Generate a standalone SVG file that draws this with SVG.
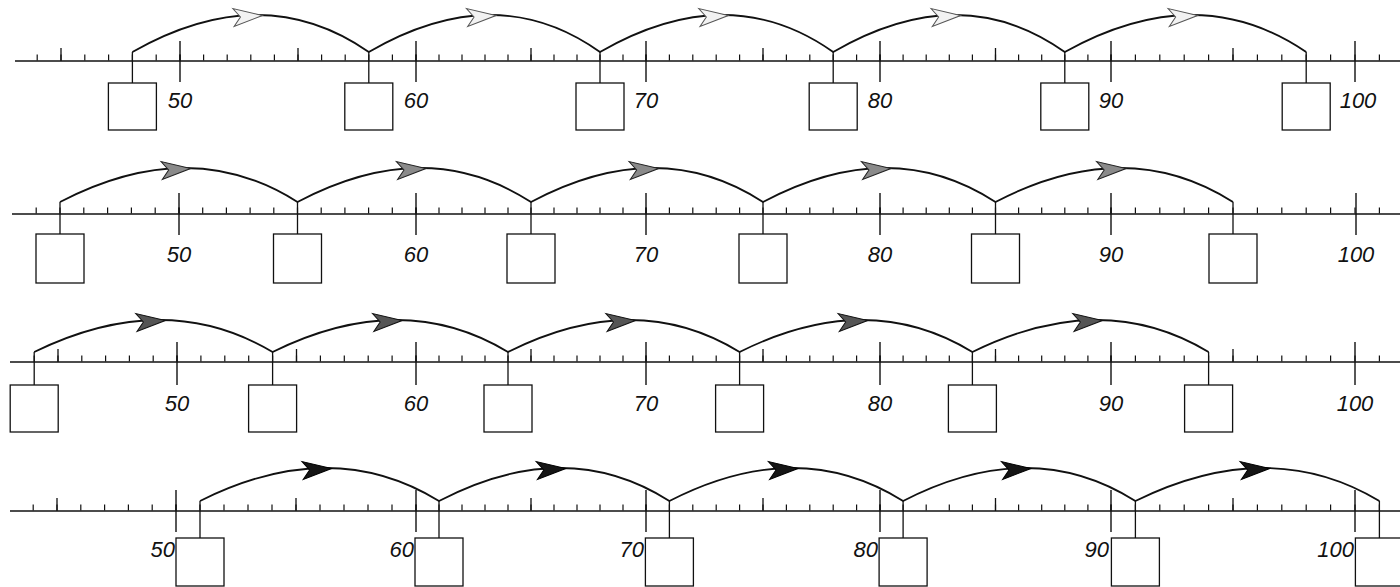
<svg xmlns="http://www.w3.org/2000/svg" xmlns:xlink="http://www.w3.org/1999/xlink" width="1400" height="587" viewBox="0 0 1400 587">
<style>
.axis{stroke:#111;stroke-width:1.6;fill:none}
.mt{stroke:#111;stroke-width:6;fill:none}
.ft{stroke:#111;stroke-width:1.3;fill:none}
.maj{stroke:#111;stroke-width:1.4;fill:none}
.box{fill:#fff;stroke:#111;stroke-width:1.3}
.arc{stroke:#111;stroke-width:1.8;fill:none}
.jv{stroke:#111;stroke-width:1.3;fill:none}
.lbl{font-family:"Liberation Sans",Arial,sans-serif;font-style:italic;font-size:22px;fill:#111;text-anchor:middle}
.lble{text-anchor:end}
.a1{fill:#f2f2f2;stroke:#555;stroke-width:1}
.a2{fill:#8a8a8a;stroke:#222;stroke-width:1}
.a3{fill:#555;stroke:#111;stroke-width:1}
.a4{fill:#151515;stroke:#000;stroke-width:1}
</style>
<defs>
<path id="ah" d="M0,0 L-29,-9 L-22,0 L-29,9 Z"/>
</defs>
<rect width="1400" height="587" fill="#fff"/>

<!-- ===== Row 1 ===== -->
<g id="line1">
<line class="axis" x1="15" y1="61" x2="1400" y2="61"/>
<g class="mt">
<line x1="36.6" y1="57.5" x2="180.6" y2="57.5" stroke-dasharray="1.2 22.6"/>
<line x1="179.4" y1="57.5" x2="416.6" y2="57.5" stroke-dasharray="1.2 22.4"/>
<line x1="415.4" y1="57.5" x2="646.6" y2="57.5" stroke-dasharray="1.2 21.8"/>
<line x1="645.4" y1="57.5" x2="880.6" y2="57.5" stroke-dasharray="1.2 22.2"/>
<line x1="879.4" y1="57.5" x2="1111.6" y2="57.5" stroke-dasharray="1.2 21.9"/>
<line x1="1110.4" y1="57.5" x2="1380" y2="57.5" stroke-dasharray="1.2 23.2"/>
</g>
<path class="ft" d="M61,61v-13M298,61v-13M531,61v-13M763,61v-13M995.5,61v-13M1233,61v-13"/>
<path class="maj" d="M180,41v41M416,41v41M646,41v41M880,41v41M1111,41v41M1355,41v41"/>
<g class="lbl">
<text x="180" y="108">50</text><text x="416" y="108">60</text><text x="646" y="108">70</text>
<text x="880" y="108">80</text><text x="1111" y="108">90</text><text x="1358" y="108">100</text>
</g>
</g>
<g id="box1-1"><rect class="box" x="108.4" y="83" width="48" height="47"/></g>
<g id="box1-2"><rect class="box" x="344.8" y="83" width="48" height="47"/></g>
<g id="box1-3"><rect class="box" x="576" y="83" width="48" height="47"/></g>
<g id="box1-4"><rect class="box" x="809.2" y="83" width="48" height="47"/></g>
<g id="box1-5"><rect class="box" x="1040.8" y="83" width="48" height="47"/></g>
<g id="box1-6"><rect class="box" x="1282.2" y="83" width="48" height="47"/></g>

<!-- ===== Row 2 ===== -->
<g id="line2">
<line class="axis" x1="12" y1="214" x2="1400" y2="214"/>
<g class="mt">
<line x1="35.6" y1="210.5" x2="179.6" y2="210.5" stroke-dasharray="1.2 22.6"/>
<line x1="178.4" y1="210.5" x2="416.6" y2="210.5" stroke-dasharray="1.2 22.5"/>
<line x1="415.4" y1="210.5" x2="646.6" y2="210.5" stroke-dasharray="1.2 21.8"/>
<line x1="645.4" y1="210.5" x2="880.6" y2="210.5" stroke-dasharray="1.2 22.2"/>
<line x1="879.4" y1="210.5" x2="1111.6" y2="210.5" stroke-dasharray="1.2 21.9"/>
<line x1="1110.4" y1="210.5" x2="1380" y2="210.5" stroke-dasharray="1.2 23.2"/>
</g>
<path class="maj" d="M179,193v42M416,193v42M646,193v42M880,193v42M1111,193v42M1356,193v42"/>
<g class="lbl">
<text x="179" y="262">50</text><text x="416" y="262">60</text><text x="646" y="262">70</text>
<text x="880" y="262">80</text><text x="1111" y="262">90</text><text x="1356" y="262">100</text>
</g>
</g>
<g id="box2-1"><rect class="box" x="36" y="234" width="48" height="49"/></g>
<g id="box2-2"><rect class="box" x="273.5" y="234" width="48" height="49"/></g>
<g id="box2-3"><rect class="box" x="507" y="234" width="48" height="49"/></g>
<g id="box2-4"><rect class="box" x="739" y="234" width="48" height="49"/></g>
<g id="box2-5"><rect class="box" x="971.5" y="234" width="48" height="49"/></g>
<g id="box2-6"><rect class="box" x="1209" y="234" width="48" height="49"/></g>

<!-- ===== Row 3 ===== -->
<g id="line3">
<line class="axis" x1="10" y1="362" x2="1400" y2="362"/>
<g class="mt">
<line x1="33.6" y1="358.5" x2="177.6" y2="358.5" stroke-dasharray="1.2 22.6"/>
<line x1="176.4" y1="358.5" x2="416.6" y2="358.5" stroke-dasharray="1.2 22.7"/>
<line x1="415.4" y1="358.5" x2="646.6" y2="358.5" stroke-dasharray="1.2 21.8"/>
<line x1="645.4" y1="358.5" x2="880.6" y2="358.5" stroke-dasharray="1.2 22.2"/>
<line x1="879.4" y1="358.5" x2="1111.6" y2="358.5" stroke-dasharray="1.2 21.9"/>
<line x1="1110.4" y1="358.5" x2="1380" y2="358.5" stroke-dasharray="1.2 23.2"/>
</g>
<path class="ft" d="M58,362v-13M296.5,362v-13M531,362v-13M763,362v-13M995.5,362v-13M1233,362v-13"/>
<path class="maj" d="M177,342v43M416,342v43M646,342v43M880,342v43M1111,342v43M1355,342v43"/>
<g class="lbl">
<text x="177" y="411">50</text><text x="416" y="411">60</text><text x="646" y="411">70</text>
<text x="880" y="411">80</text><text x="1111" y="411">90</text><text x="1355" y="411">100</text>
</g>
</g>
<g id="box3-1"><rect class="box" x="10.2" y="385" width="48" height="47"/></g>
<g id="box3-2"><rect class="box" x="248.6" y="385" width="48" height="47"/></g>
<g id="box3-3"><rect class="box" x="484" y="385" width="48" height="47"/></g>
<g id="box3-4"><rect class="box" x="715.6" y="385" width="48" height="47"/></g>
<g id="box3-5"><rect class="box" x="948.4" y="385" width="48" height="47"/></g>
<g id="box3-6"><rect class="box" x="1184.6" y="385" width="48" height="47"/></g>

<!-- ===== Row 4 ===== -->
<g id="line4">
<line class="axis" x1="10" y1="511" x2="1400" y2="511"/>
<g class="mt">
<line x1="32.6" y1="507.5" x2="176.6" y2="507.5" stroke-dasharray="1.2 22.6"/>
<line x1="175.4" y1="507.5" x2="416.6" y2="507.5" stroke-dasharray="1.2 22.8"/>
<line x1="415.4" y1="507.5" x2="646.6" y2="507.5" stroke-dasharray="1.2 21.8"/>
<line x1="645.4" y1="507.5" x2="880.6" y2="507.5" stroke-dasharray="1.2 22.2"/>
<line x1="879.4" y1="507.5" x2="1111.6" y2="507.5" stroke-dasharray="1.2 21.9"/>
<line x1="1110.4" y1="507.5" x2="1380" y2="507.5" stroke-dasharray="1.2 23.2"/>
</g>
<path class="ft" d="M57,511v-13M296,511v-13M531,511v-13M763,511v-13M995.5,511v-13M1233,511v-13"/>
<path class="maj" d="M176,490v42M416,490v42M646,490v42M880,490v42M1111,490v42M1355,490v42"/>
<g class="lbl lble">
<text x="175" y="557">50</text><text x="414" y="557">60</text><text x="644" y="557">70</text>
<text x="878" y="557">80</text><text x="1109" y="557">90</text><text x="1354" y="557">100</text>
</g>
</g>
<g id="box4-1"><rect class="box" x="176" y="538" width="48" height="48"/></g>
<g id="box4-2"><rect class="box" x="415" y="538" width="48" height="48"/></g>
<g id="box4-3"><rect class="box" x="645.4" y="538" width="48" height="48"/></g>
<g id="box4-4"><rect class="box" x="879.1" y="538" width="48" height="48"/></g>
<g id="box4-5"><rect class="box" x="1111.4" y="538" width="48" height="48"/></g>
<g id="box4-6"><rect class="box" x="1355.4" y="538" width="48" height="48"/></g>

<!-- ===== Connectors ===== -->
<g id="connectors">
<path class="jv" d="M132.4,83V52M368.8,83V52M600,83V52M833.2,83V52M1064.8,83V52M1306.2,83V52"/>
<path class="arc" d="M132.4,52Q262.4,-22 368.8,52Q496,-22 600,52Q728.3,-22 833.2,52Q960.6,-22 1064.8,52Q1197.6,-22 1306.2,52"/>
<g class="a1">
<use href="#ah" transform="translate(262.4,15.5) rotate(-4)"/>
<use href="#ah" transform="translate(496,15.5) rotate(-4)"/>
<use href="#ah" transform="translate(728.3,15.5) rotate(-4)"/>
<use href="#ah" transform="translate(960.6,15.5) rotate(-4)"/>
<use href="#ah" transform="translate(1197.6,15.5) rotate(-4)"/>
</g>

<path class="jv" d="M60,234V202M297.5,234V202M531,234V202M763,234V202M995.5,234V202M1233,234V202"/>
<path class="arc" d="M60,202Q190.6,134 297.5,202Q425.9,134 531,202Q658.6,134 763,202Q890.9,134 995.5,202Q1126.1,134 1233,202"/>
<g class="a2">
<use href="#ah" transform="translate(190.6,168.5) rotate(-4)"/>
<use href="#ah" transform="translate(425.9,168.5) rotate(-4)"/>
<use href="#ah" transform="translate(658.6,168.5) rotate(-4)"/>
<use href="#ah" transform="translate(890.9,168.5) rotate(-4)"/>
<use href="#ah" transform="translate(1126.1,168.5) rotate(-4)"/>
</g>

<path class="jv" d="M34.2,385V352M272.6,385V352M508,385V352M739.6,385V352M972.4,385V352M1208.6,385V352"/>
<path class="arc" d="M34.2,352Q165.3,288 272.6,352Q402.1,288 508,352Q635.4,288 739.6,352Q867.6,288 972.4,352Q1102.3,288 1208.6,352"/>
<g class="a3">
<use href="#ah" transform="translate(165.3,320.5) rotate(-4)"/>
<use href="#ah" transform="translate(402.1,320.5) rotate(-4)"/>
<use href="#ah" transform="translate(635.4,320.5) rotate(-4)"/>
<use href="#ah" transform="translate(867.6,320.5) rotate(-4)"/>
<use href="#ah" transform="translate(1102.3,320.5) rotate(-4)"/>
</g>

<path class="jv" d="M200,538V501M439,538V501M669.4,538V501M903.1,538V501M1135.4,538V501M1379.4,538V501"/>
<path class="arc" d="M200,501Q331.5,435 439,501Q565.7,435 669.4,501Q797.9,435 903.1,501Q1030.9,435 1135.4,501Q1269.6,435 1379.4,501"/>
<g class="a4">
<use href="#ah" transform="translate(331.5,468.5) rotate(-4)"/>
<use href="#ah" transform="translate(565.7,468.5) rotate(-4)"/>
<use href="#ah" transform="translate(797.9,468.5) rotate(-4)"/>
<use href="#ah" transform="translate(1030.9,468.5) rotate(-4)"/>
<use href="#ah" transform="translate(1269.6,468.5) rotate(-4)"/>
</g>
</g>
</svg>
